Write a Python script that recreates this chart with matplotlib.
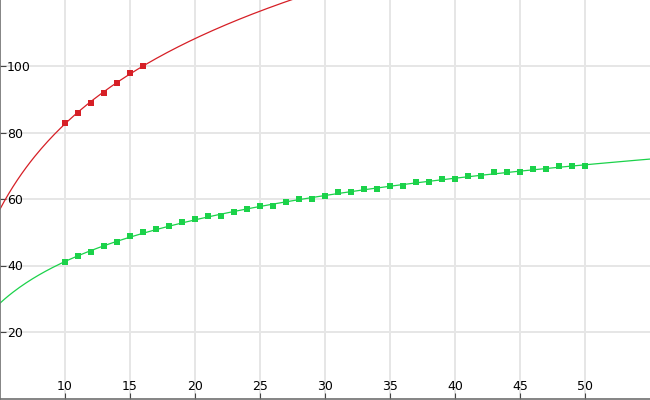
import numpy as np
from matplotlib import pyplot as plt

# observed points
red_x = [10, 11, 12, 13, 14, 15, 16]
red_y = [83, 86, 89, 92, 95, 98, 100]

green_x = list(range(10, 51))
green_y = [41, 43, 44, 46, 47, 49, 50, 51, 52, 53,
           54, 55, 55, 56, 57, 58, 58, 59, 60, 60,
           61, 62, 62, 63, 63, 64, 64, 65, 65, 66,
           66, 67, 67, 68, 68, 68, 69, 69, 70, 70,
           70]

x_ticks = [10, 15, 20, 25, 30, 35, 40, 45, 50]
y_ticks = [20, 40, 60, 80, 100]

RED = "#d61f26"
GREEN = "#1bd24a"

fig = plt.figure(figsize=(6.5, 4), dpi=100)
ax = fig.add_axes([0, 1.5 / 400, 1, 399 / 400])

# logarithmic trend lines fitted to the points
xs = np.linspace(5, 55, 300)
for px, py, col in [(red_x, red_y, RED), (green_x, green_y, GREEN)]:
    a, b = np.polyfit(np.log(px), py, 1)
    ax.plot(xs, a * np.log(xs) + b, color=col, lw=0.9, zorder=2)
    ax.plot(px, py, 's', color=col, ms=4.6, mew=0, zorder=3)

ax.set_xlim(5, 55)
ax.set_ylim(0, 120)
ax.set_xticks(x_ticks)
ax.set_yticks(y_ticks)
ax.grid(True, color="#e6e6e6", lw=1.4, zorder=0)
ax.set_axisbelow(True)

for side in ["top", "right"]:
    ax.spines[side].set_visible(False)
for side in ["left", "bottom"]:
    ax.spines[side].set_color("#707070")
    ax.spines[side].set_linewidth(1.2)

ax.tick_params(axis="x", direction="in", length=4, color="#444444",
               pad=-13, labelsize=9)
ax.tick_params(axis="y", direction="in", length=4, color="#444444",
               pad=-5, labelsize=9)
for lab in ax.get_yticklabels():
    lab.set_horizontalalignment("left")

plt.savefig("out.png", dpi=100)
